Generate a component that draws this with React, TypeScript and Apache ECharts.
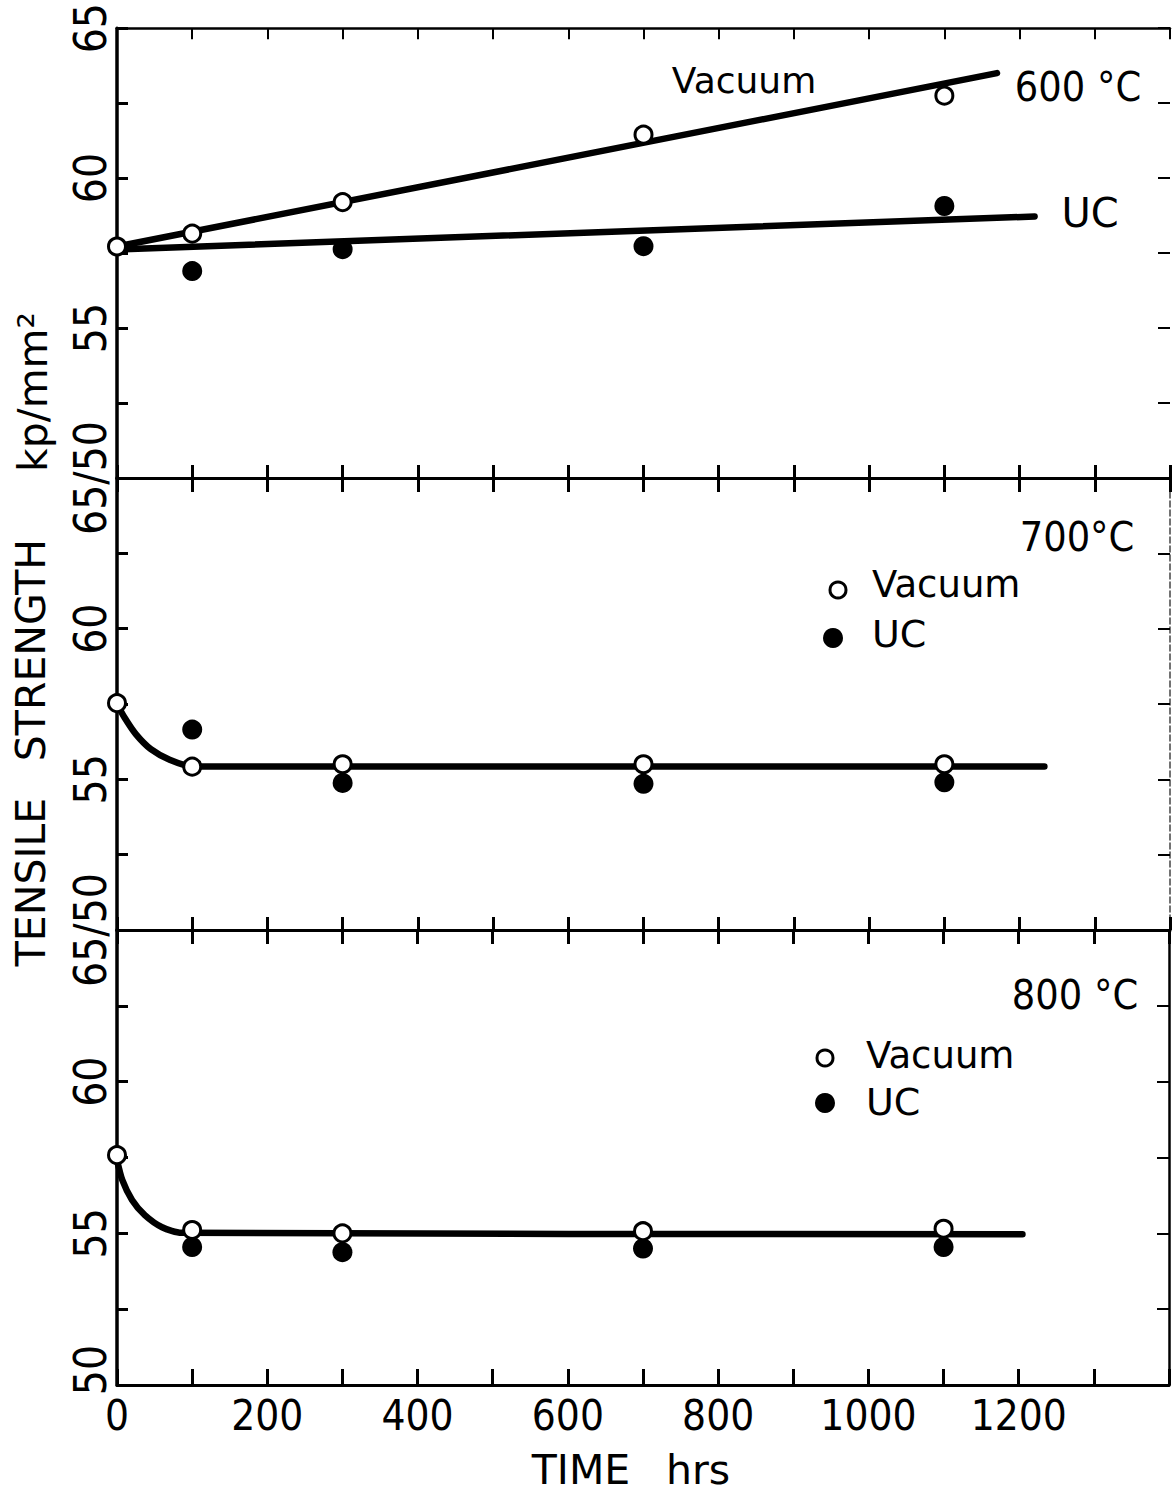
import React, { useEffect, useRef } from "react";
import * as echarts from "echarts";

// ---------- data ----------
const timeLabels = [0, 200, 400, 600, 800, 1000, 1200];
const panelTemps = ["600 °C", "700°C", "800 °C"];

// 600 °C
const vacuum600 = [[0, 57.72], [100, 58.15], [300, 59.2], [700, 61.45], [1100, 62.75]];
const uc600 = [[100, 56.9], [300, 57.63], [700, 57.73], [1100, 59.07]];
const vacuumFit600 = [[0, 57.72], [1170, 63.5]];
const ucFit600 = [[0, 57.62], [1220, 58.72]];

// 700 °C
const vacuum700 = [[0, 57.53], [100, 55.42], [300, 55.5], [700, 55.5], [1100, 55.5]];
const uc700 = [[100, 56.65], [300, 54.88], [700, 54.85], [1100, 54.9]];
const curve700 = [[0, 57.5], [10, 57.05], [25, 56.5], [45, 56.0], [70, 55.65], [100, 55.43], [1233, 55.43]];

// 800 °C
const vacuum800 = [[0, 57.58], [100, 55.11], [300, 55.0], [700, 55.07], [1100, 55.15]];
const uc800 = [[100, 54.55], [300, 54.38], [700, 54.5], [1100, 54.55]];
const curve800 = [[0, 57.42], [7, 56.76], [20, 56.1], [37, 55.6], [60, 55.2], [86, 55.02], [1205, 54.97]];

const yLabels0: Record<string, string> = { "65": "65", "60": "60", "55": "55", "50": "65/50" };
const yLabels1: Record<string, string> = { "60": "60", "55": "55", "50": "65/50" };
const yLabels2: Record<string, string> = { "60": "60", "55": "55", "50": "{s|50}" };

// ---------- style ----------
const NUM_FONT = "'Liberation Sans Narrow', 'DejaVu Sans Condensed', sans-serif";
const WORD_FONT = "'DejaVu Sans', sans-serif";
const BLACK = "#000";

const grids = [
  { left: 117, top: 22, width: 1053, height: 456 },
  { left: 117, top: 478, width: 1053, height: 452 },
  { left: 117, top: 930, width: 1053, height: 455 },
];

function App() {
  const ref = useRef<HTMLDivElement>(null);

  useEffect(() => {
    document.body.style.margin = "0";
    document.body.style.overflow = "hidden";
    const chart = echarts.init(ref.current!, null, { renderer: "svg" });

    const xAxes: any[] = [];
    const yAxes: any[] = [];
    const yLabelMaps = [yLabels0, yLabels1, yLabels2];

    grids.forEach((_, i) => {
      xAxes.push({
        type: "value",
        gridIndex: i,
        position: "bottom",
        min: 0,
        max: 1400,
        interval: 100,
        axisLine: { show: true, onZero: false, lineStyle: { color: BLACK, width: 3 } },
        axisTick: { show: true, inside: true, length: i === 2 ? 16 : 13, lineStyle: { color: BLACK, width: 3 } },
        axisLabel: {
          show: i === 2,
          margin: 9,
          color: BLACK,
          fontFamily: NUM_FONT,
          fontSize: 42,
          formatter: (v: number) => (timeLabels.indexOf(v) >= 0 ? String(v) : ""),
        },
        splitLine: { show: false },
      });
      xAxes.push({
        type: "value",
        gridIndex: i,
        position: "top",
        min: 0,
        max: 1400,
        interval: 100,
        axisLine: { show: true, onZero: false, lineStyle: { color: BLACK, width: i === 0 ? 2.5 : 3 } },
        axisTick: {
          show: true,
          inside: true,
          length: i === 0 ? 11 : 14,
          lineStyle: { color: BLACK, width: i === 0 ? 2 : 3 },
        },
        axisLabel: { show: false },
        splitLine: { show: false },
      });
      const map = yLabelMaps[i];
      yAxes.push({
        type: "value",
        gridIndex: i,
        position: "left",
        min: 50,
        max: 65,
        interval: 2.5,
        axisLine: { show: true, onZero: false, lineStyle: { color: BLACK, width: 3.5 } },
        axisTick: { show: true, inside: true, length: 11, lineStyle: { color: BLACK, width: 3 } },
        axisLabel: {
          show: true,
          rotate: 90,
          margin: 5,
          color: BLACK,
          fontFamily: NUM_FONT,
          fontSize: 44,
          formatter: (v: number) => map[String(v)] || "",
          rich: {
            s: { fontFamily: NUM_FONT, fontSize: 44, color: BLACK, padding: [0, 0, 0, 30] },
          },
        },
        splitLine: { show: false },
      });
      yAxes.push({
        type: "value",
        gridIndex: i,
        position: "right",
        min: 50,
        max: 65,
        interval: 2.5,
        axisLine: {
          show: i > 0,
          onZero: false,
          lineStyle: i === 1 ? { color: "#444", width: 1.5, type: "dashed" } : { color: BLACK, width: 2.5 },
        },
        axisTick: { show: true, inside: true, length: 12, lineStyle: { color: BLACK, width: 2 } },
        axisLabel: { show: false },
        splitLine: { show: false },
      });
    });

    const lineSeries = (data: number[][], i: number, smooth = false) => ({
      type: "line",
      xAxisIndex: 2 * i,
      yAxisIndex: 2 * i,
      data,
      showSymbol: false,
      symbol: "none",
      smooth: smooth ? 0.25 : false,
      lineStyle: { color: BLACK, width: 6.5, cap: "round", join: "round" },
      z: 2,
      silent: true,
    });
    const openPts = (data: number[][], i: number) => ({
      type: "scatter",
      xAxisIndex: 2 * i,
      yAxisIndex: 2 * i,
      data,
      symbol: "circle",
      symbolSize: 17,
      itemStyle: { color: "#fff", borderColor: BLACK, borderWidth: 3, opacity: 1 },
      z: 4,
      silent: true,
      clip: false,
    });
    const filledPts = (data: number[][], i: number) => ({
      type: "scatter",
      xAxisIndex: 2 * i,
      yAxisIndex: 2 * i,
      data,
      symbol: "circle",
      symbolSize: 20,
      itemStyle: { color: BLACK, opacity: 1 },
      z: 3,
      silent: true,
      clip: false,
    });

    const series: any[] = [
      lineSeries(vacuumFit600, 0),
      lineSeries(ucFit600, 0),
      filledPts(uc600, 0),
      openPts(vacuum600, 0),
      lineSeries(curve700, 1, true),
      filledPts(uc700, 1),
      openPts(vacuum700, 1),
      lineSeries(curve800, 2, true),
      filledPts(uc800, 2),
      openPts(vacuum800, 2),
    ];

    const txt = (text: string, x: number, y: number, font: string, size: number, align = "center", rotation = 0) => ({
      type: "text",
      x,
      y,
      rotation,
      silent: true,
      z: 10,
      style: {
        text,
        fill: BLACK,
        font: `${size}px ${font}`,
        textAlign: align,
        textVerticalAlign: "middle",
        align,
        verticalAlign: "middle",
      },
    });
    const circ = (cx: number, cy: number, r: number, filled: boolean) => ({
      type: "circle",
      silent: true,
      z: 10,
      shape: { cx, cy, r },
      style: filled ? { fill: BLACK } : { fill: "#fff", stroke: BLACK, lineWidth: 3 },
    });

    const graphic: any[] = [
      txt("Vacuum", 744, 80, WORD_FONT, 36),
      txt(panelTemps[0], 1078, 87, NUM_FONT, 41),
      txt("UC", 1090, 213, WORD_FONT, 40),
      txt(panelTemps[1], 1077, 537, NUM_FONT, 41),
      circ(838, 590, 8, false),
      txt("Vacuum", 872, 584, WORD_FONT, 37, "left"),
      circ(833, 638, 10, true),
      txt("UC", 872, 634, WORD_FONT, 38, "left"),
      txt(panelTemps[2], 1075, 995, NUM_FONT, 41),
      circ(825, 1058, 8, false),
      txt("Vacuum", 866, 1055, WORD_FONT, 37, "left"),
      circ(825, 1103, 10, true),
      txt("UC", 866, 1102, WORD_FONT, 38, "left"),
      txt("TENSILE", 31, 882, WORD_FONT, 41, "center", Math.PI / 2),
      txt("STRENGTH", 31, 650, WORD_FONT, 41, "center", Math.PI / 2),
      txt("kp/mm²", 33, 392, WORD_FONT, 41, "center", Math.PI / 2),
      txt("TIME", 581, 1470, WORD_FONT, 41),
      txt("hrs", 698, 1470, WORD_FONT, 41),
    ];

    chart.setOption({
      animation: false,
      backgroundColor: "#fff",
      grid: grids.map((g) => ({ ...g, containLabel: false })),
      xAxis: xAxes,
      yAxis: yAxes,
      series,
      graphic,
    });

    return () => chart.dispose();
  }, []);

  return <div ref={ref} style={{ width: 1172, height: 1493 }} />;
}

export default App;
